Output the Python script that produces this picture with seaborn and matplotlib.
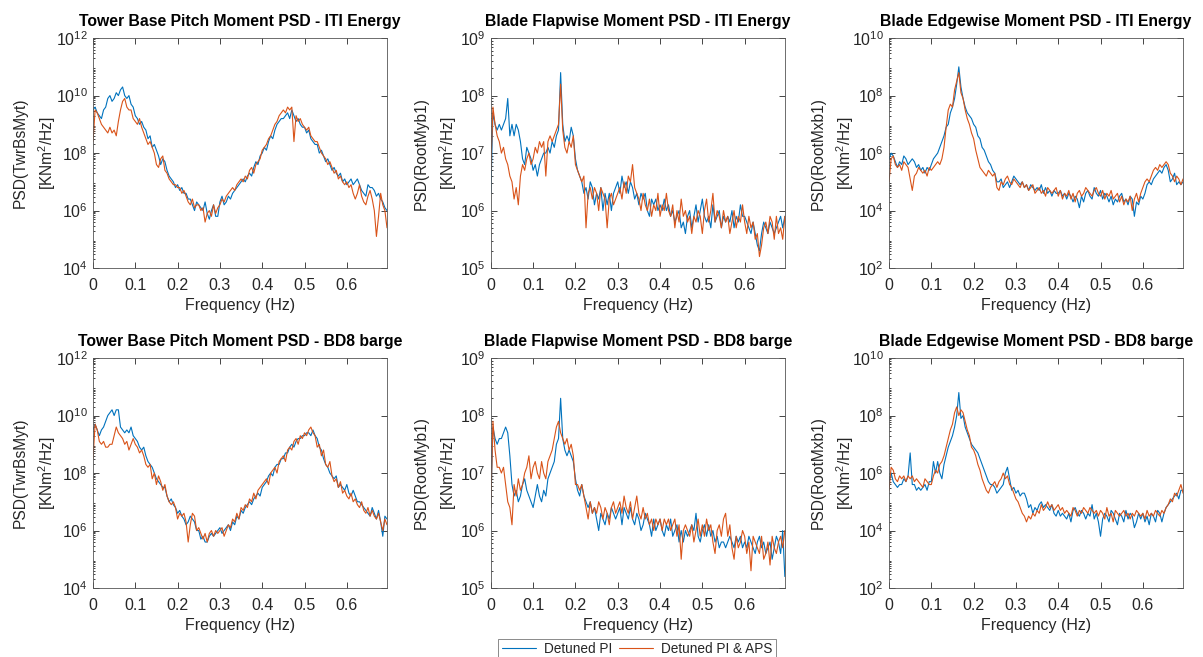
import numpy as np
import pandas as pd
import matplotlib
matplotlib.use("Agg")
import matplotlib.pyplot as plt
import seaborn as sns
from matplotlib.ticker import FixedLocator, NullFormatter

# frequency grid (Hz), 0 .. 0.695 step 0.005
freq = np.arange(140) * 0.005

# --- log10(PSD) values, rows of 0.1 Hz ---
twr_iti_pi = [
    9.5, 9.6, 9.4, 9.3, 9.2, 9.5, 9.6, 9.9, 10.0, 9.8, 9.9, 10.1, 10.0, 10.2, 10.3, 10.0, 9.9, 10.0, 9.7, 9.6,
    9.3, 9.2, 9.0, 9.1, 8.9, 8.8, 8.5, 8.6, 8.2, 8.3, 8.1, 7.9, 7.6, 7.8, 7.7, 7.4, 7.2, 7.1, 7.0, 6.8,
    6.9, 6.7, 6.8, 6.6, 6.6, 6.4, 6.4, 6.2, 6.0, 6.3, 6.2, 6.1, 6.0, 6.3, 5.9, 5.7, 6.0, 6.2, 5.8, 5.8,
    6.3, 6.5, 6.2, 6.3, 6.5, 6.4, 6.6, 6.7, 6.8, 6.9, 7.0, 7.1, 7.0, 7.2, 7.3, 7.2, 7.5, 7.7, 7.6, 7.9,
    8.0, 8.2, 8.1, 8.4, 8.6, 8.5, 8.8, 9.0, 9.1, 9.2, 9.2, 9.3, 9.4, 9.2, 9.5, 9.3, 9.1, 9.2, 9.0, 8.9,
    8.9, 8.7, 8.8, 8.5, 8.4, 8.3, 8.3, 8.0, 8.1, 7.9, 7.7, 7.8, 7.6, 7.4, 7.5, 7.3, 7.2, 7.3, 7.0, 7.1,
    6.9, 7.0, 7.1, 6.9, 7.0, 7.1, 6.9, 6.7, 6.6, 6.5, 6.9, 6.8, 6.8, 6.7, 6.5, 6.6, 6.4, 6.3, 6.1, 6.0,
]
twr_iti_aps = [
    8.4, 9.5, 9.4, 9.2, 9.0, 8.9, 8.8, 8.7, 8.9, 8.7, 8.8, 8.6, 9.1, 9.5, 9.8, 9.9, 9.6, 9.5, 9.5, 9.2,
    9.1, 9.0, 9.2, 8.9, 8.7, 8.5, 8.3, 8.4, 8.2, 8.0, 7.6, 7.5, 7.8, 7.9, 7.4, 7.3, 7.1, 7.0, 6.9, 6.9,
    6.8, 6.8, 6.6, 6.7, 6.5, 6.3, 6.2, 6.4, 6.1, 6.2, 6.2, 6.0, 6.1, 5.6, 5.9, 6.0, 5.8, 6.2, 5.9, 6.1,
    6.2, 6.4, 6.3, 6.5, 6.6, 6.7, 6.8, 6.7, 6.9, 7.0, 7.1, 7.0, 7.2, 7.1, 7.4, 7.5, 7.3, 7.6, 7.7, 7.8,
    8.1, 8.2, 8.3, 8.5, 8.6, 8.8, 9.0, 9.1, 9.3, 9.4, 9.5, 9.4, 9.6, 9.5, 9.6, 8.4, 9.3, 9.1, 9.2, 9.0,
    8.9, 8.8, 8.9, 8.6, 8.5, 8.4, 8.4, 8.2, 8.0, 7.9, 7.8, 7.6, 7.7, 7.5, 7.3, 7.4, 7.1, 7.2, 7.0, 6.9,
    7.0, 6.8, 6.9, 6.6, 6.4, 6.6, 6.9, 6.5, 6.3, 6.2, 6.5, 6.7, 6.4, 6.0, 5.1, 5.8, 6.6, 6.2, 6.0, 5.4,
]
flap_iti_pi = [
    6.3, 7.7, 7.5, 7.4, 7.5, 7.4, 7.5, 7.6, 7.95, 7.3, 7.5, 7.3, 7.5, 7.4, 7.2, 6.9, 6.8, 7.1, 7.0, 6.9,
    6.7, 6.8, 6.6, 6.8, 6.9, 7.0, 7.0, 7.1, 7.0, 7.2, 7.1, 7.3, 7.4, 8.4, 7.5, 7.2, 7.3, 7.2, 7.45, 7.3,
    6.9, 6.7, 6.6, 6.5, 6.3, 6.4, 6.2, 6.5, 6.4, 6.1, 6.3, 6.2, 6.4, 6.0, 6.3, 6.1, 6.3, 6.0, 6.3, 6.4,
    6.5, 6.3, 6.6, 6.4, 6.5, 6.3, 6.5, 6.4, 6.2, 6.3, 6.1, 6.3, 6.2, 6.3, 6.0, 5.9, 6.2, 6.1, 6.2, 6.0,
    6.1, 6.0, 6.2, 6.0, 6.1, 5.9, 6.0, 5.8, 5.9, 6.0, 5.7, 5.8, 5.6, 5.9, 6.0, 5.7, 5.9, 6.1, 5.8, 6.0,
    6.2, 5.9, 5.8, 5.9, 5.7, 6.1, 5.8, 5.9, 6.0, 5.7, 5.9, 5.8, 5.9, 5.8, 6.0, 5.7, 5.9, 5.8, 6.1, 5.9,
    5.9, 5.8, 5.7, 5.6, 5.8, 5.6, 5.4, 5.3, 5.6, 5.8, 5.7, 5.6, 5.8, 5.7, 5.6, 5.7, 5.8, 5.9, 5.7, 5.9,
]
flap_iti_aps = [
    6.7, 7.8, 7.5, 7.3, 7.2, 7.0, 7.1, 6.9, 6.8, 6.6, 6.5, 6.2, 6.4, 6.1, 6.6, 6.8, 6.7, 6.9, 7.0, 6.8,
    6.9, 7.1, 7.0, 7.2, 7.1, 7.2, 6.6, 7.2, 7.3, 7.2, 7.3, 7.4, 7.5, 8.2, 7.4, 7.1, 7.0, 7.2, 7.1, 7.3,
    6.8, 6.7, 6.6, 6.5, 6.6, 5.7, 6.3, 6.4, 6.2, 6.4, 6.3, 6.0, 6.4, 6.3, 6.2, 5.7, 6.2, 6.3, 6.1, 6.2,
    6.3, 6.4, 6.2, 6.5, 6.3, 6.6, 6.5, 6.8, 6.4, 6.3, 6.2, 6.0, 6.3, 6.1, 6.0, 6.2, 5.9, 6.1, 6.0, 6.3,
    5.9, 6.1, 6.0, 6.3, 6.0, 5.9, 6.1, 5.7, 6.0, 5.8, 6.2, 5.9, 6.0, 5.8, 5.9, 5.6, 5.9, 5.8, 6.0, 5.9,
    5.6, 6.0, 6.2, 5.8, 6.0, 6.3, 5.8, 6.0, 5.9, 5.7, 6.0, 5.8, 5.9, 5.6, 5.8, 6.0, 5.7, 5.9, 5.8, 6.1,
    5.8, 5.6, 5.9, 5.7, 5.8, 5.5, 5.6, 5.2, 5.4, 5.7, 5.8, 5.6, 5.9, 5.8, 5.5, 5.9, 5.6, 5.7, 5.5, 5.9,
]
edge_iti_pi = [
    5.8, 6.0, 5.9, 5.7, 5.5, 5.7, 5.6, 5.9, 5.8, 5.6, 5.7, 5.8, 5.7, 5.5, 5.6, 5.4, 5.5, 5.3, 5.5, 5.4,
    5.6, 5.8, 5.9, 6.0, 6.2, 6.4, 6.6, 6.9, 7.0, 7.4, 7.6, 7.9, 8.4, 9.0, 8.3, 7.9, 7.6, 7.4, 7.3, 7.2,
    7.0, 6.9, 6.6, 6.5, 6.2, 6.1, 5.9, 5.7, 5.6, 5.4, 5.3, 5.0, 5.0, 5.1, 4.8, 4.9, 5.0, 4.8, 5.0, 5.2,
    5.1, 5.0, 4.9, 5.0, 4.8, 4.9, 4.7, 4.9, 4.8, 4.7, 4.8, 4.7, 4.9, 4.6, 4.8, 4.6, 4.7, 4.5, 4.7, 4.6,
    4.6, 4.7, 4.5, 4.6, 4.4, 4.6, 4.5, 4.3, 4.5, 4.4, 4.1, 4.5, 4.3, 4.6, 4.7, 4.5, 4.4, 4.8, 4.6, 4.5,
    4.7, 4.4, 4.6, 4.5, 4.3, 4.5, 4.2, 4.4, 4.3, 4.5, 4.6, 4.3, 4.4, 4.2, 4.5, 4.4, 3.8, 4.3, 4.2, 4.5,
    4.4, 4.6, 4.9, 5.0, 4.9, 5.1, 5.2, 5.3, 5.4, 5.3, 5.5, 5.6, 5.4, 5.0, 5.1, 5.3, 4.9, 5.0, 4.9, 5.0,
]
edge_iti_aps = [
    5.0, 5.8, 5.9, 5.6, 5.5, 5.6, 5.4, 5.7, 5.6, 5.5, 5.1, 4.7, 5.2, 5.3, 5.5, 5.4, 5.3, 5.4, 5.2, 5.5,
    5.4, 5.5, 5.6, 5.7, 5.6, 5.8, 6.2, 6.9, 7.5, 7.7, 7.6, 8.2, 8.5, 8.8, 8.1, 7.9, 7.5, 7.2, 7.0, 6.7,
    6.5, 6.1, 5.8, 5.5, 5.4, 5.3, 5.2, 5.4, 5.3, 5.2, 5.3, 4.8, 4.7, 5.0, 4.9, 5.1, 5.2, 5.0, 4.9, 5.1,
    5.0, 4.9, 4.8, 5.0, 4.8, 4.9, 4.7, 4.8, 4.9, 4.6, 4.7, 4.8, 4.6, 4.7, 4.5, 4.8, 4.7, 4.6, 4.7, 4.8,
    4.5, 4.7, 4.4, 4.6, 4.5, 4.7, 4.4, 4.6, 4.3, 4.6, 4.7, 4.5, 4.6, 4.8, 4.7, 4.6, 4.5, 4.7, 4.8, 4.6,
    4.5, 4.7, 4.4, 4.6, 4.5, 4.7, 4.4, 4.5, 4.6, 4.3, 4.5, 4.2, 4.4, 4.3, 4.5, 4.0, 4.4, 4.6, 4.3, 4.6,
    4.8, 5.0, 5.1, 5.0, 5.2, 5.4, 5.5, 5.4, 5.6, 5.5, 5.6, 5.7, 5.6, 5.3, 5.2, 5.0, 5.2, 5.1, 4.9, 5.1,
]
twr_bd8_pi = [
    9.5, 9.7, 9.5, 9.3, 9.5, 9.6, 9.8, 10.0, 10.1, 10.2, 10.0, 10.2, 10.2, 9.6, 9.5, 9.4, 9.5, 9.4, 9.6, 9.3,
    9.2, 9.1, 8.9, 8.8, 8.9, 8.6, 8.4, 8.3, 8.2, 8.0, 7.8, 7.7, 7.6, 7.5, 7.5, 7.2, 7.0, 7.1, 6.9, 6.8,
    6.6, 6.7, 6.5, 6.4, 6.2, 6.3, 6.5, 6.4, 6.3, 6.0, 6.0, 5.7, 5.8, 5.6, 5.6, 5.8, 5.9, 5.8, 5.9, 6.0,
    6.1, 5.9, 6.0, 6.1, 6.2, 6.0, 6.3, 6.2, 6.5, 6.4, 6.7, 6.6, 6.8, 6.9, 7.0, 6.9, 7.1, 7.2, 7.3, 7.2,
    7.5, 7.6, 7.7, 7.9, 8.0, 7.9, 8.2, 8.3, 8.3, 8.5, 8.5, 8.7, 8.7, 8.9, 9.0, 8.9, 9.1, 9.2, 9.2, 9.3,
    9.3, 9.4, 9.4, 9.3, 9.5, 9.3, 9.2, 8.9, 8.8, 8.5, 8.3, 8.2, 8.0, 7.9, 7.8, 7.9, 7.5, 7.6, 7.5, 7.4,
    7.6, 7.3, 7.2, 7.4, 7.2, 7.0, 7.0, 6.9, 6.8, 6.7, 6.6, 6.5, 6.8, 6.6, 6.4, 6.7, 6.3, 5.8, 6.5, 6.4,
]
twr_bd8_aps = [
    8.5, 9.7, 9.5, 9.1, 9.0, 9.1, 8.9, 8.9, 9.0, 9.0, 9.3, 9.6, 9.4, 9.3, 9.2, 9.0, 9.1, 8.8, 9.0, 9.2,
    9.0, 8.9, 8.7, 8.8, 8.6, 8.3, 8.2, 8.3, 7.8, 8.0, 7.6, 7.9, 7.7, 7.4, 7.6, 7.2, 7.0, 6.9, 7.0, 6.8,
    6.4, 6.6, 6.5, 6.6, 6.3, 5.6, 6.2, 6.6, 6.5, 6.0, 6.1, 5.9, 5.7, 5.9, 5.6, 5.9, 6.0, 5.8, 6.0, 5.9,
    6.0, 6.1, 5.8, 6.0, 6.2, 6.1, 6.4, 6.3, 6.6, 6.4, 6.8, 6.7, 6.9, 6.8, 7.1, 7.0, 7.3, 7.1, 7.4, 7.5,
    7.6, 7.7, 7.8, 7.6, 8.0, 8.1, 8.2, 8.0, 8.4, 8.5, 8.6, 8.4, 8.8, 8.9, 8.8, 9.1, 9.2, 9.0, 9.3, 9.2,
    9.4, 9.3, 9.5, 9.6, 9.4, 9.3, 8.9, 9.0, 8.6, 8.8, 8.3, 8.2, 8.4, 7.9, 7.7, 7.8, 7.5, 7.7, 7.3, 7.4,
    7.2, 7.1, 7.3, 7.0, 7.1, 6.9, 6.8, 7.0, 6.7, 6.6, 6.8, 6.5, 6.7, 6.5, 6.4, 6.6, 6.3, 6.0, 6.4, 6.2,
]
flap_bd8_pi = [
    6.4, 7.8, 7.6, 7.5, 7.6, 7.6, 7.7, 7.8, 7.7, 7.3, 6.8, 6.6, 6.7, 6.5, 6.6, 6.8, 6.9, 6.7, 6.6, 6.5,
    6.4, 6.6, 6.8, 6.6, 6.5, 6.7, 6.6, 6.9, 7.0, 7.1, 7.2, 7.5, 7.6, 8.3, 7.6, 7.4, 7.3, 7.4, 7.3, 7.2,
    6.9, 6.7, 6.6, 6.8, 6.6, 6.5, 6.4, 6.5, 6.3, 6.4, 6.2, 6.0, 6.3, 6.2, 6.1, 6.3, 6.2, 6.4, 6.3, 6.2,
    6.3, 6.4, 6.1, 6.4, 6.3, 6.2, 6.4, 6.2, 6.1, 6.3, 6.2, 6.0, 6.1, 6.3, 6.2, 6.1, 5.9, 6.2, 6.0, 6.1,
    6.2, 6.0, 5.9, 6.1, 6.0, 6.2, 5.9, 6.0, 6.1, 5.8, 6.0, 5.8, 6.0, 5.9, 6.0, 6.1, 6.0, 6.3, 5.9, 5.8,
    6.0, 6.1, 5.9, 6.1, 5.9, 6.0, 5.8, 5.9, 5.7, 5.8, 5.8, 5.7, 5.8, 5.9, 5.8, 5.7, 5.9, 5.8, 5.9, 5.7,
    5.8, 5.7, 5.9, 5.8, 5.7, 5.6, 5.8, 5.9, 5.7, 5.8, 5.6, 5.7, 5.8, 5.5, 5.7, 5.9, 5.8, 5.6, 6.0, 5.2,
]
flap_bd8_aps = [
    6.4, 7.9, 7.4, 7.1, 7.1, 7.0, 7.1, 6.8, 6.5, 6.4, 6.1, 6.8, 6.6, 6.9, 6.7, 6.8, 7.0, 7.1, 7.3, 6.9,
    7.1, 7.2, 7.0, 6.9, 7.2, 7.0, 6.9, 7.2, 7.3, 7.4, 7.6, 7.8, 7.9, 7.7, 7.6, 7.5, 7.6, 7.4, 7.5, 7.3,
    6.8, 6.8, 6.7, 6.8, 6.6, 6.4, 6.2, 6.5, 6.3, 6.4, 6.3, 6.5, 6.4, 6.2, 6.4, 6.3, 6.1, 6.4, 6.5, 6.3,
    6.4, 6.5, 6.3, 6.6, 6.4, 6.3, 6.5, 6.2, 6.4, 6.6, 6.3, 6.2, 6.4, 6.2, 6.3, 6.1, 6.2, 6.0, 6.2, 6.1,
    6.2, 6.0, 6.2, 6.1, 6.2, 6.0, 6.1, 6.2, 5.9, 6.1, 5.5, 6.0, 6.1, 6.0, 5.9, 6.1, 5.8, 6.0, 6.2, 5.9,
    6.1, 5.9, 6.2, 6.0, 6.1, 5.8, 5.6, 6.0, 6.1, 5.9, 6.2, 6.3, 5.9, 6.1, 5.7, 5.5, 5.9, 5.7, 5.8, 6.0,
    5.9, 5.6, 5.8, 5.3, 5.9, 5.8, 5.7, 5.6, 5.9, 5.5, 5.6, 5.8, 5.4, 5.9, 5.7, 5.6, 5.8, 5.9, 5.7, 6.0,
]
edge_bd8_pi = [
    5.7, 6.0, 5.7, 5.6, 5.5, 5.6, 5.6, 5.8, 5.7, 5.9, 6.7, 5.6, 5.6, 5.4, 5.5, 5.4, 5.5, 5.6, 5.4, 5.7,
    5.7, 6.4, 6.0, 6.4, 6.0, 5.8, 6.3, 6.6, 6.9, 7.1, 7.3, 7.6, 8.0, 8.8, 7.9, 8.0, 7.6, 7.4, 7.2, 7.0,
    6.9, 6.8, 6.7, 6.5, 6.3, 6.1, 5.9, 5.7, 5.6, 5.6, 5.5, 5.3, 5.4, 5.5, 5.6, 6.0, 6.2, 5.8, 5.4, 5.5,
    5.3, 5.4, 5.2, 5.3, 5.3, 5.1, 4.8, 4.9, 4.6, 4.8, 4.7, 4.9, 5.0, 4.8, 4.9, 4.8, 4.7, 4.9, 4.6, 4.5,
    4.7, 4.5, 4.6, 4.5, 4.4, 4.6, 4.3, 4.7, 4.8, 4.6, 4.5, 4.7, 4.6, 4.4, 4.6, 4.5, 4.9, 4.4, 4.6, 4.3,
    3.8, 4.4, 4.6, 4.5, 4.3, 4.7, 4.6, 4.4, 4.2, 4.6, 4.5, 4.3, 4.7, 4.4, 4.6, 4.5, 4.1, 4.3, 4.6, 4.4,
    4.6, 4.3, 4.5, 4.2, 4.6, 4.5, 4.3, 4.7, 4.6, 4.3, 4.6, 4.8, 4.9, 5.0, 5.1, 5.2, 5.3, 5.1, 5.4, 5.4,
]
edge_bd8_aps = [
    5.4, 6.2, 6.1, 5.8, 5.7, 5.9, 5.8, 5.9, 5.7, 5.9, 5.8, 5.9, 5.7, 5.8, 5.7, 5.6, 5.5, 5.8, 5.7, 5.6,
    5.6, 5.9, 6.1, 6.0, 6.3, 6.4, 6.6, 6.9, 7.2, 7.5, 7.7, 8.1, 8.3, 8.0, 8.2, 8.1, 7.8, 7.5, 7.3, 6.9,
    6.8, 6.6, 6.3, 6.1, 5.8, 5.6, 5.4, 5.3, 5.5, 5.6, 5.7, 5.5, 5.7, 5.8, 6.0, 5.8, 5.9, 5.6, 5.5, 5.3,
    5.1, 5.0, 4.8, 4.6, 4.5, 4.3, 4.5, 4.4, 4.6, 4.5, 4.7, 4.6, 4.9, 4.7, 4.8, 5.0, 4.8, 4.9, 4.7, 4.8,
    4.9, 4.7, 4.8, 4.6, 4.7, 4.6, 4.5, 4.8, 4.7, 4.5, 4.7, 4.6, 4.8, 4.7, 4.6, 4.8, 4.7, 4.6, 4.7, 4.5,
    4.7, 4.6, 4.4, 4.8, 4.5, 4.6, 4.3, 4.7, 4.6, 4.5, 4.6, 4.7, 4.5, 4.6, 4.4, 4.6, 4.5, 4.7, 4.6, 4.5,
    4.6, 4.4, 4.7, 4.5, 4.6, 4.5, 4.7, 4.6, 4.5, 4.7, 4.6, 4.8, 4.9, 5.1, 5.0, 5.3, 5.2, 5.4, 5.6, 5.3,
]

titles = [
    "Tower Base Pitch Moment PSD - ITI Energy",
    "Blade Flapwise Moment PSD - ITI Energy",
    "Blade Edgewise Moment PSD - ITI Energy",
    "Tower Base Pitch Moment PSD - BD8 barge",
    "Blade Flapwise Moment PSD - BD8 barge",
    "Blade Edgewise Moment PSD - BD8 barge",
]
ylabels = ["PSD(TwrBsMyt)", "PSD(RootMyb1)", "PSD(RootMxb1)"] * 2
series = [
    (twr_iti_pi, twr_iti_aps), (flap_iti_pi, flap_iti_aps), (edge_iti_pi, edge_iti_aps),
    (twr_bd8_pi, twr_bd8_aps), (flap_bd8_pi, flap_bd8_aps), (edge_bd8_pi, edge_bd8_aps),
]
# y range exponents and major tick step per panel
ylims = [(4, 12), (5, 9), (2, 10)] * 2
ystep = [2, 1, 2] * 2
xticks = [0, 0.1, 0.2, 0.3, 0.4, 0.5, 0.6]
labels = ["Detuned PI", "Detuned PI & APS"]
colors = ["#0072BD", "#D95319"]

sns.set_style("ticks")
plt.rcParams["font.family"] = ["Liberation Sans", "DejaVu Sans"]
plt.rcParams["mathtext.default"] = "regular"
txt = "#262626"

fig = plt.figure(figsize=(12.03, 6.57), dpi=100)
lefts = [0.0773, 0.408, 0.739]
bottoms = [0.592, 0.105]
w, h = 0.2444, 0.350
# y label offset from the axis, as a fraction of the axis width
ylab_x = [-0.118, -0.108, -0.113]

for i in range(6):
    r, c = divmod(i, 3)
    ax = fig.add_axes([lefts[c], bottoms[r], w, h])
    pi_vals, aps_vals = series[i]
    df = pd.DataFrame({
        "f": np.concatenate([freq, freq]),
        "psd": 10 ** np.concatenate([np.array(pi_vals), np.array(aps_vals)]),
        "case": [labels[0]] * len(freq) + [labels[1]] * len(freq),
    })
    sns.lineplot(data=df, x="f", y="psd", hue="case", palette=colors,
                 hue_order=labels, estimator=None, linewidth=0.8, ax=ax, legend=False)
    ax.set_yscale("log")
    lo, hi = ylims[i]
    ax.set_ylim(10.0 ** lo, 10.0 ** hi)
    ax.set_xlim(0, 0.695)
    exps = list(range(lo, hi + 1, ystep[i]))
    ax.yaxis.set_major_locator(FixedLocator([10.0 ** e for e in exps]))
    ax.set_yticklabels([f"$10^{{{e}}}$" for e in exps])
    ax.yaxis.set_minor_formatter(NullFormatter())
    if ystep[i] == 2:
        ax.yaxis.set_minor_locator(FixedLocator([m * 10.0 ** e for e in range(lo, hi) for m in range(2, 10)]))
    ax.set_xticks(xticks)
    ax.set_xticklabels(["0", "0.1", "0.2", "0.3", "0.4", "0.5", "0.6"])
    ax.tick_params(which="both", direction="in", top=True, right=True, colors=txt,
                   labelsize=11.5, length=4, width=0.6)
    ax.tick_params(axis="x", pad=7)
    ax.tick_params(axis="y", pad=4)
    ax.tick_params(which="minor", length=1.5, right=False, top=False)
    for s in ax.spines.values():
        s.set_visible(True)
        s.set_linewidth(0.6)
        s.set_color("#555555")
    ax.set_xlabel("Frequency (Hz)", fontsize=11.5, color=txt, labelpad=4)
    ax.set_ylabel(ylabels[i] + "\n[KNm$^2$/Hz]", fontsize=11.2, color=txt,
                  linespacing=1.5)
    ax.yaxis.set_label_coords(ylab_x[c], 0.5)
    ax.set_title(titles[i], fontsize=11.3, fontweight="bold", color="black", pad=9)

handles = [plt.Line2D([], [], color=col, linewidth=0.8) for col in colors]
leg = fig.legend(handles, labels, loc="upper center", bbox_to_anchor=(0.5295, 0.038),
                 ncol=2, frameon=True, fancybox=False, fontsize=9.8, handlelength=2.5,
                 columnspacing=0.5, borderpad=0.25, handletextpad=0.6)
leg.get_frame().set_edgecolor("#555555")
leg.get_frame().set_linewidth(0.6)

fig.savefig("out.png", dpi=100)
